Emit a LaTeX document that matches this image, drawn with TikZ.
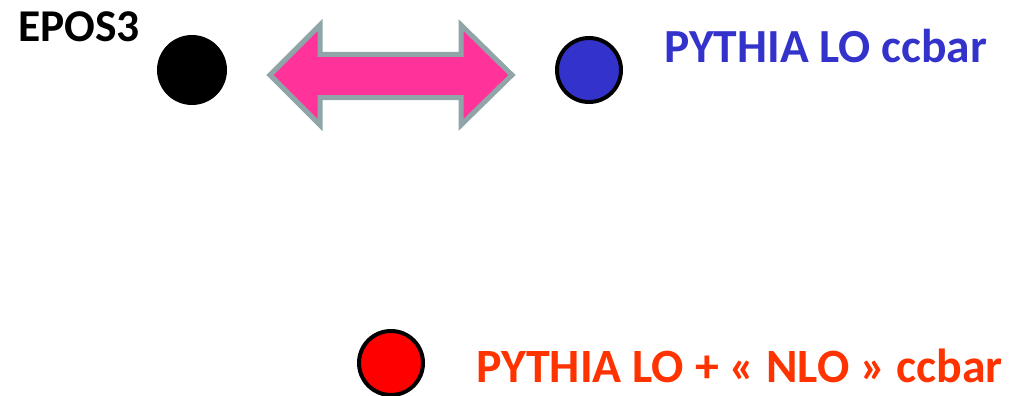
\documentclass[tikz,border=0pt]{standalone}
\usepackage{fontspec}
\setmainfont{Carlito}
\definecolor{epink}{HTML}{FF3399}
\definecolor{egray}{HTML}{8FA5A8}
\definecolor{eblue}{HTML}{3333CC}
\definecolor{ered}{HTML}{FF0000}
\definecolor{eorange}{HTML}{FF3300}
\tikzset{
  dot/.style={circle, minimum size=64pt, inner sep=0pt, draw=black, line width=4pt},
  lbl/.style={anchor=base west, inner sep=0pt, font=\bfseries},
}
\begin{document}
\begin{tikzpicture}[x=1pt,y=-1pt]
\useasboundingbox (0,0) rectangle (1012,396);
% labels
\node[lbl, font=\bfseries\fontsize{45.5}{52}\selectfont] (epos) at (18,42) {EPOS3};
\node[lbl, text=eblue, font=\bfseries\fontsize{47.5}{55}\selectfont] (plo) at (664,63) {PYTHIA LO ccbar};
\node[lbl, text=eorange, font=\bfseries\fontsize{47.8}{55}\selectfont] (pnlo) at (476,382) {PYTHIA LO + « NLO » ccbar};
% dots
\node[dot, fill=black, minimum size=66pt] (d1) at (192,70) {};
\node[dot, fill=eblue] (d2) at (589,70) {};
\node[dot, fill=ered] (d3) at (391,363) {};
% double block arrow
\draw[fill=epink, draw=egray, line width=5pt, line join=miter]
  (270,75) -- (320,25) -- (320,54.5) -- (461,54.5) -- (461,25) -- (512,75)
  -- (461,125) -- (461,97.5) -- (320,97.5) -- (320,125) -- cycle;
\end{tikzpicture}
\end{document}
